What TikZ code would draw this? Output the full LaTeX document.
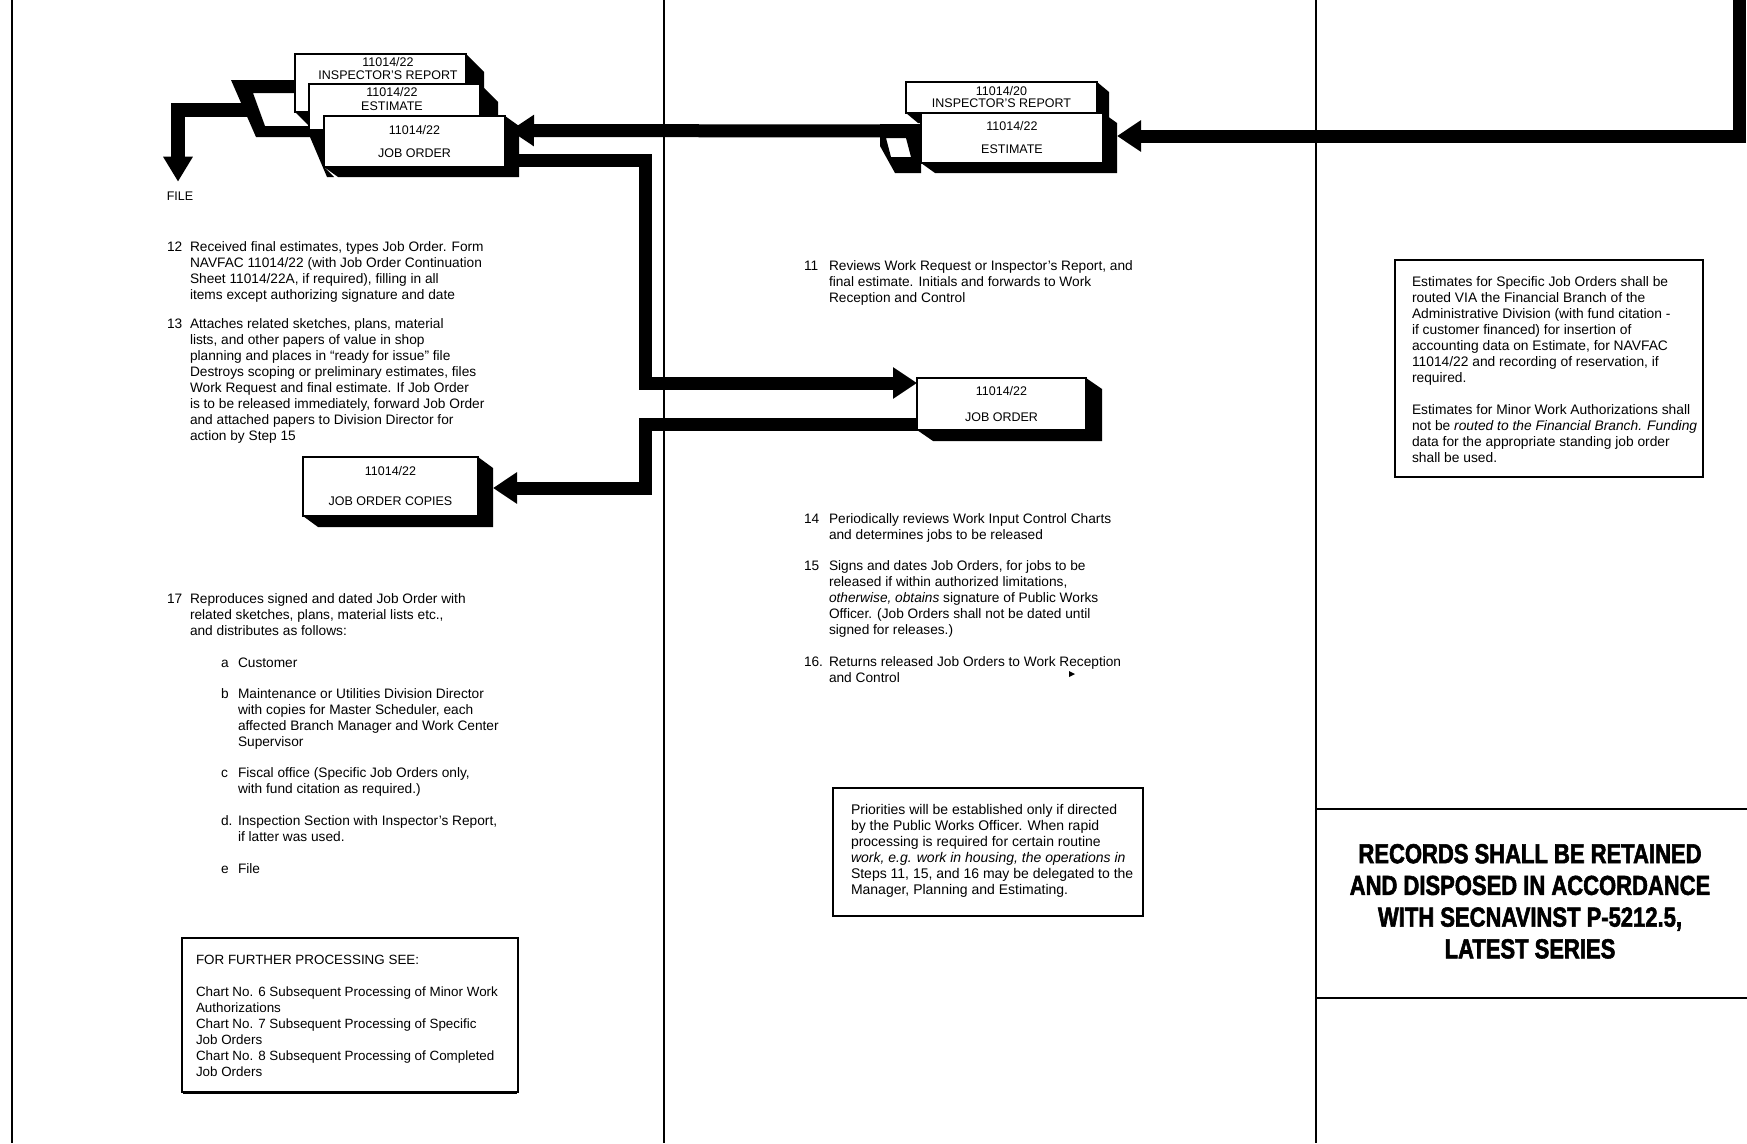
\documentclass[tikz,border=0pt]{standalone}
\usepackage{fontspec}
\setmainfont{Liberation Sans}
\newfontfamily\recfont[FakeStretch=0.8,BoldFeatures={FakeBold=2}]{Liberation Sans}
\usetikzlibrary{arrows.meta,calc}
\pgfdeclarelayer{bg}
\pgfsetlayers{bg,main}
\newcommand\hs{\rule{0pt}{10.5pt}}
\newcommand\docshadow[3]{\fill (#1.north east) -- ($(#1.north east)+(#2,#3)$) -- ($(#1.south east)+(#2,#3)$) -- ($(#1.south west)+(#2,#3)$) -- (#1.south west) -- cycle;}
\begin{document}
\begin{tikzpicture}[x=1pt,y=-1pt,
  every node/.style={inner sep=0pt, outer sep=0pt},
  txt/.style={anchor=north west, align=left, font=\fontsize{13.7}{16}\selectfont},
  docbox/.style={draw, fill=white, line width=1.2pt, align=center, font=\fontsize{12.5}{13}\selectfont},
  doclbl/.style={align=center, font=\fontsize{12.5}{13}\selectfont},
  flow/.style={line width=13pt, line join=miter, -{Triangle[width=30pt,length=24pt]}},
  rule/.style={line width=2.5pt},
  notebox/.style={draw, line width=2.2pt, anchor=north west}]
\useasboundingbox (0,0) rectangle (1747,1143);

% frame lines
\draw[rule] (12,0) -- (12,1143);
\draw[rule] (664,0) -- (664,1143);
\draw[rule] (1316,0) -- (1316,1143);
\draw[rule] (1316,809) -- (1747,809);
\draw[rule] (1316,998) -- (1747,998);

% document boxes, top left group
\node[docbox, minimum width=171pt, minimum height=58pt] (ir1) at (380.5,83) {};
\node[docbox, minimum width=171pt, minimum height=46pt] (est1) at (394.5,107) {};
\node[docbox, minimum width=181pt, minimum height=51pt] (jo1) at (414.5,141.5) {11014/22\\[10pt]JOB ORDER};
\node[doclbl] (ir1t) at (388,68.5) {11014/22\\INSPECTOR'S REPORT};
\node[doclbl] (est1t) at (392,99) {11014/22\\[1pt]ESTIMATE};

% document boxes, top middle group
\node[docbox, minimum width=191pt, minimum height=31pt, font=\fontsize{12.5}{12}\selectfont] (ir2) at (1001.5,97.5) {11014/20\\INSPECTOR'S REPORT};
\node[docbox, minimum width=182pt, minimum height=50pt] (est2) at (1012,138) {11014/22\\[10pt]ESTIMATE};

% other boxes
\node[docbox, minimum width=169pt, minimum height=52pt] (jo2) at (1001.5,404) {11014/22\\[13pt]JOB ORDER};
\node[docbox, minimum width=175pt, minimum height=59pt] (joc) at (390.5,486.5) {11014/22\\[17pt]JOB ORDER COPIES};

\node[font=\fontsize{12.5}{12.5}\selectfont] (file) at (180,196) {FILE};

\begin{pgfonlayer}{bg}
  \fill[white] (0,0) rectangle (1747,1143);
  \docshadow{ir1}{18}{18}
  \docshadow{est1}{18}{18}
  \docshadow{jo1}{14}{10}
  \docshadow{ir2}{12}{10}
  \docshadow{est2}{14}{10}
  \docshadow{jo2}{16}{11}
  \docshadow{joc}{15}{11}
  % bracket to file
  \fill[even odd rule] (231,80) -- (300,80) -- (300,116) -- (324,116) -- (324,167) -- (334,177) -- (327,177) -- (310,137) -- (256,137) -- cycle
        (253,93) -- (309,93) -- (309,126) -- (265,126) -- cycle;
  % bracket left of estimate
  \fill[even odd rule] (880,124) -- (921,124) -- (921,173) -- (895,173) -- (880,146) -- cycle
        (886,138) -- (906,138) -- (911,157) -- (891,157) -- cycle;
\end{pgfonlayer}

% connectors
\coordinate (brk1) at (250,110);
\coordinate (brk2) at (890,131);
\coordinate (inR) at (1739,0);
\draw[line width=14pt, line join=miter, -{Triangle[width=28pt,length=25pt]}] (brk1) -| ($(file.north)+(-2,-10)$);
\draw[flow] (inR) |- ($(est2.east)+(14,-2)$);
\draw[flow] (brk2) -- ($(jo1.east)+(5,-11)$);
\draw[flow] ($(jo1.east)+(0,18.5)$) -- (645,160) |- ($(jo2.west)+(0,-21)$);
\draw[flow] ($(jo2.west)+(0,20)$) -- (645,424) |- ($(joc.east)+(15,1.5)$);

% left column text
\node[txt] (n12) at (167,240.5) {\hs 12};
\node[txt] (p12) at (190,240.5) {\hs Received final estimates, types Job Order. Form\\
NAVFAC 11014/22 (with Job Order Continuation\\
Sheet 11014/22A, if required), filling in all\\
items except authorizing signature and date};
\node[txt] (n13) at (167,317.5) {\hs 13};
\node[txt] (p13) at (190,317.5) {\hs Attaches related sketches, plans, material\\
lists, and other papers of value in shop\\
planning and places in ``ready for issue'' file\\
Destroys scoping or preliminary estimates, files\\
Work Request and final estimate. If Job Order\\
is to be released immediately, forward Job Order\\
and attached papers to Division Director for\\
action by Step 15};
\node[txt] (n17) at (167,592.5) {\hs 17};
\node[txt] (p17) at (190,592.5) {\hs Reproduces signed and dated Job Order with\\
related sketches, plans, material lists etc.,\\
and distributes as follows:};
\node[txt] (la) at (221,656.5) {\hs a};
\node[txt] (ia) at (238,656.5) {\hs Customer};
\node[txt] (lb) at (221,687.5) {\hs b};
\node[txt] (ib) at (238,687.5) {\hs Maintenance or Utilities Division Director\\
with copies for Master Scheduler, each\\
affected Branch Manager and Work Center\\
Supervisor};
\node[txt] (lc) at (221,766.5) {\hs c};
\node[txt] (ic) at (238,766.5) {\hs Fiscal office (Specific Job Orders only,\\
with fund citation as required.)};
\node[txt] (ld) at (221,814.5) {\hs d.};
\node[txt] (id) at (238,814.5) {\hs Inspection Section with Inspector's Report,\\
if latter was used.};
\node[txt] (le) at (221,862.5) {\hs e};
\node[txt] (ie) at (238,862.5) {\hs File};

\node[notebox, minimum width=336pt, minimum height=154pt] (furtherbox) at (182,938) {};
\draw[line width=2pt] ($(furtherbox.south west)+(1,1)$) -- ($(furtherbox.south east)+(-1,1)$);
\node[txt, font=\fontsize{13.4}{16}\selectfont] (further) at (196,953.5) {\hs FOR FURTHER PROCESSING SEE:\\[16pt]
Chart No. 6 Subsequent Processing of Minor Work\\
Authorizations\\
Chart No. 7 Subsequent Processing of Specific\\
Job Orders\\
Chart No. 8 Subsequent Processing of Completed\\
Job Orders};

% middle column text
\node[txt] (n11) at (804,259.5) {\hs 11};
\node[txt] (p11) at (829,259.5) {\hs Reviews Work Request or Inspector's Report, and\\
final estimate. Initials and forwards to Work\\
Reception and Control};
\node[txt] (n14) at (804,512.5) {\hs 14};
\node[txt] (p14) at (829,512.5) {\hs Periodically reviews Work Input Control Charts\\
and determines jobs to be released};
\node[txt] (n15) at (804,559.5) {\hs 15};
\node[txt] (p15) at (829,559.5) {\hs Signs and dates Job Orders, for jobs to be\\
released if within authorized limitations,\\
\textit{otherwise, obtains} signature of Public Works\\
Officer. (Job Orders shall not be dated until\\
signed for releases.)};
\node[txt] (n16) at (804,655.5) {\hs 16.};
\node[txt] (p16) at (829,655.5) {\hs Returns released Job Orders to Work Reception\\
and Control};
\fill (1069,671) -- (1075,674) -- (1069,677) -- cycle;

\node[notebox, minimum width=310pt, minimum height=128pt] (pribox) at (833,788) {};
\node[txt, font=\fontsize{14}{16}\selectfont] (pri) at (851,803.5) {\hs Priorities will be established only if directed\\
by the Public Works Officer. When rapid\\
processing is required for certain routine\\
\textit{work, e.g. work in housing, the operations in}\\
Steps 11, 15, and 16 may be delegated to the\\
Manager, Planning and Estimating.};

% right column
\node[notebox, line width=2pt, minimum width=308pt, minimum height=217pt] (estbox) at (1395,260) {};
\node[txt, font=\fontsize{13.8}{16}\selectfont] (estnote) at (1412,275.5) {\hs Estimates for Specific Job Orders shall be\\
routed VIA the Financial Branch of the\\
Administrative Division (with fund citation -\\
if customer financed) for insertion of\\
accounting data on Estimate, for NAVFAC\\
11014/22 and recording of reservation, if\\
required.\\[16pt]
Estimates for Minor Work Authorizations shall\\
not be \textit{routed to the Financial Branch. Funding}\\
data for the appropriate standing job order\\
shall be used.};

\node[anchor=north, align=center, font=\recfont\bfseries\fontsize{27.5}{31.7}\selectfont] (records) at (1530,844) {RECORDS SHALL BE RETAINED\\
AND DISPOSED IN ACCORDANCE\\
WITH SECNAVINST P-5212.5,\\
LATEST SERIES};
\end{tikzpicture}
\end{document}
